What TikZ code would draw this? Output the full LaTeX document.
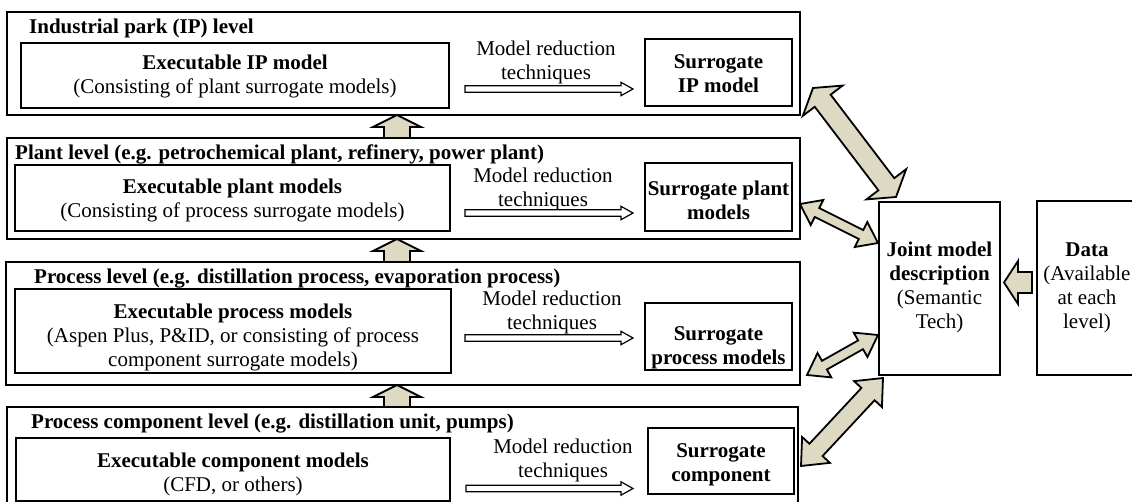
\documentclass[tikz,border=0pt]{standalone}
\usepackage{fontspec}
\setmainfont{Liberation Serif}
\usetikzlibrary{calc}
\definecolor{beige}{HTML}{DDD9C3}
\tikzset{
  frame/.style={draw=black, line width=1.4pt, inner sep=0pt, outer sep=0pt, rectangle},
  execbox/.style={frame, line width=1.6pt},
  surbox/.style={frame, line width=2.2pt},
  sidebox/.style={frame, line width=2pt},
  txt/.style={inner sep=0pt, align=center, font=\fontsize{21}{24}\selectfont},
  ttl/.style={txt, anchor=west, font=\fontsize{21}{24}\selectfont\bfseries},
  blk/.style={draw=black, line width=1.8pt, fill=beige, line join=miter},
  hol/.style={draw=black, line width=1.2pt, fill=white, line join=miter},
}
% box: [style]{name}{x1}{y1}{x2}{y2}
\newcommand\rbox[6][frame]{\node[#1, minimum width={(#5)-(#3)}, minimum height={(#6)-(#4)}] (#2) at ({((#3)+(#5))/2},{((#4)+(#6))/2}) {};}
% single arrow: [style]{base}{tip}{shaft half}{head half}{head length}
\newcommand\sarrow[6][blk]{%
  \path ($(#3)!#6pt!(#2)$) coordinate (hb);
  \draw[#1] (#3) -- ($(hb)!#5pt!90:(#2)$) -- ($(hb)!#4pt!90:(#2)$) -- ($(#2)!#4pt!-90:(#3)$) -- ($(#2)!#4pt!90:(#3)$) -- ($(hb)!#4pt!-90:(#2)$) -- ($(hb)!#5pt!-90:(#2)$) -- cycle;}
% double arrow: {A}{B}{shaft half}{head half}{head length}
\newcommand\darrow[5]{%
  \path ($(#1)!#5pt!(#2)$) coordinate (h1) ($(#2)!#5pt!(#1)$) coordinate (h2);
  \draw[blk] (#1) -- ($(h1)!#4pt!-90:(#2)$) -- ($(h1)!#3pt!-90:(#2)$) -- ($(h2)!#3pt!90:(#1)$) -- ($(h2)!#4pt!90:(#1)$) -- (#2) -- ($(h2)!#4pt!-90:(#1)$) -- ($(h2)!#3pt!-90:(#1)$) -- ($(h1)!#3pt!90:(#2)$) -- ($(h1)!#4pt!90:(#2)$) -- cycle;}
\begin{document}
\begin{tikzpicture}[x=1pt, y=-1pt]
\useasboundingbox (0,0) rectangle (1132,502);
\fill[white] (0,0) rectangle (1132,502);
\clip (0,0) rectangle (1132,502);

% ---------- Level 1 ----------
\rbox{L1}{7}{12}{800}{115}
\node[ttl] (L1t) at (29,28.5) {Industrial park (IP) level\strut};
\rbox[execbox]{E1}{21}{43}{449}{108}
\node[txt] (E1t) at (235,77) {\textbf{Executable IP model}\strut\\(Consisting of plant surrogate models)\strut};
\node[txt] (M1) at (546,63) {Model reduction\strut\\techniques\strut};
\rbox[surbox]{S1}{645}{39}{792}{106}
\node[txt] (S1t) at (718.5,76) {\textbf{Surrogate}\strut\\\textbf{IP model}\strut};
\coordinate (r1a) at (465,89); \coordinate (r1b) at (633,89);
\sarrow[hol]{r1a}{r1b}{3.3}{6.7}{12}

% ---------- Level 2 ----------
\rbox{L2}{7}{138}{800}{239}
\node[ttl] (L2t) at (15,154.5) {Plant level (e.g. petrochemical plant, refinery, power plant)\strut};
\rbox[execbox]{E2}{15}{165}{450}{231}
\node[txt] (E2t) at (232.5,201) {\textbf{Executable plant models}\strut\\(Consisting of process surrogate models)\strut};
\node[txt] (M2) at (543,189.5) {Model reduction\strut\\techniques\strut};
\rbox[surbox]{S2}{645}{163}{792}{231}
\node[txt] (S2t) at (718.5,203) {\textbf{Surrogate plant}\strut\\\textbf{models}\strut};
\coordinate (r2a) at (465,213); \coordinate (r2b) at (633,213);
\sarrow[hol]{r2a}{r2b}{3.3}{6.7}{12}

% ---------- Level 3 ----------
\rbox{L3}{6}{262}{800}{385}
\node[ttl] (L3t) at (34,278.5) {Process level (e.g. distillation process, evaporation process)\strut};
\rbox[execbox]{E3}{15}{289}{451}{373}
\node[txt] (E3t) at (233,337.5) {\textbf{Executable process models}\strut\\(Aspen Plus, P\&ID, or consisting of process\strut\\component surrogate models)\strut};
\node[txt] (M3) at (552,313) {Model reduction\strut\\techniques\strut};
\rbox[surbox]{S3}{645}{303}{792}{370}
\node[txt] (S3t) at (718.5,347.5) {\textbf{Surrogate}\strut\\\textbf{process models}\strut};
\coordinate (r3a) at (465,338); \coordinate (r3b) at (633,338);
\sarrow[hol]{r3a}{r3b}{3.3}{6.7}{12}

% ---------- Level 4 ----------
\rbox{L4}{7}{407}{798}{520}
\node[ttl] (L4t) at (31,423.5) {Process component level (e.g. distillation unit, pumps)\strut};
\rbox[execbox]{E4}{16}{438}{450}{501}
\node[txt] (E4t) at (233,475) {\textbf{Executable component models}\strut\\(CFD, or others)\strut};
\node[txt] (M4) at (563,460.5) {Model reduction\strut\\techniques\strut};
\rbox[surbox]{S4}{648}{428}{794}{494}
\node[txt] (S4t) at (721,465) {\textbf{Surrogate}\strut\\\textbf{component}\strut};
\coordinate (r4a) at (466,488.5); \coordinate (r4b) at (633,488.5);
\sarrow[hol]{r4a}{r4b}{3.3}{6.7}{12}

% ---------- right side ----------
\rbox[sidebox]{J}{879}{202}{1000}{375}
\node[txt] (Jt) at (939.5,288) {\textbf{Joint model}\strut\\\textbf{description}\strut\\(Semantic\strut\\Tech)\strut};
\rbox[sidebox]{D}{1037}{201}{1140}{375}
\node[txt] (Dt) at (1087,287.5) {\textbf{Data}\strut\\(Available\strut\\at each\strut\\level)\strut};

% ---------- up arrows between levels ----------
\coordinate (u1t) at (L1.south -| 397,0); \coordinate (u1b) at (L2.north -| 397,0);
\coordinate (u2t) at (L2.south -| 397,0); \coordinate (u2b) at (L3.north -| 397,0);
\coordinate (u3t) at (L3.south -| 397,0); \coordinate (u3b) at (L4.north -| 397,0);
\sarrow{u1b}{u1t}{13}{24}{12}
\sarrow{u2b}{u2t}{13}{24}{12}
\sarrow{u3b}{u3t}{13}{24}{12}

% ---------- data arrow ----------
\coordinate (db) at (1004,282.5);
\draw[blk] (db) -- ++(14,-21.5) -- ++(0,11) -- ++(14,0) -- ++(0,21) -- ++(-14,0) -- ++(0,11) -- cycle;

% ---------- double arrows to joint model ----------
\coordinate (a1s) at (813,88);  \coordinate (a1e) at (896,197);
\coordinate (a2s) at (800,204); \coordinate (a2e) at (878,243);
\coordinate (a3s) at (807,375); \coordinate (a3e) at (878,335);
\coordinate (a4s) at (801,466); \coordinate (a4e) at (883,378);
\darrow{a1s}{a1e}{10}{25}{16}
\darrow{a2s}{a2e}{5}{14}{19}
\darrow{a3s}{a3e}{5}{14}{20}
\darrow{a4s}{a4e}{9}{19}{22}
\end{tikzpicture}
\end{document}
